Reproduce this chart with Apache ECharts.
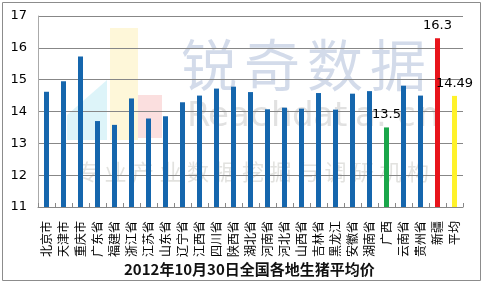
<!DOCTYPE html>
<html>
<head>
<meta charset="utf-8">
<script src="https://cdn.jsdelivr.net/npm/echarts@6/dist/echarts.min.js"></script>
<style>
  html, body { margin: 0; padding: 0; background: #fff; }
  #main { width: 483px; height: 284px; }
</style>
</head>
<body>
<div id="main"></div>
<script>
var provinces = ['北京市','天津市','重庆市','广东省','福建省','浙江省','江苏省','山东省','辽宁省','江西省',
    '四川省','陕西省','湖北省','河南省','河北省','山西省','吉林省','黑龙江','安徽省','湖南省',
    '广西','云南省','贵州省','新疆','平均'];
var prices = [14.62,14.95,15.73,13.70,13.58,14.41,13.78,13.85,14.29,14.50,
    14.72,14.78,14.61,14.07,14.12,14.09,14.58,14.06,14.56,14.64,
    13.5,14.81,14.50,16.3,14.49];
// 特别标注的柱子
var highlight = { '广西': '#1aa64a', '新疆': '#e8141b', '平均': '#fff22a' };
var yTicks = [11, 12, 13, 14, 15, 16, 17];

(function(){
    var myChart = echarts.init(document.getElementById('main'));

    var barData = prices.map(function(v, i){
        var name = provinces[i];
        var item = { value: v, itemStyle: { color: highlight[name] || '#1566ad' } };
        if (highlight[name]) {
            item.label = { show: true, position: 'top', distance: 6, color: '#000', fontSize: 13, fontFamily: 'DejaVu Sans' };
        }
        return item;
    });

    // 水印文字，逐字排开
    var wm = [];
    '锐奇数据'.split('').forEach(function(c, i){
        wm.push({ type: 'text', left: 181 + i * 63, top: 37, style: { text: c, fontSize: 56, fill: 'rgba(150,170,205,0.42)', fontFamily: 'Noto Sans CJK SC' }, z: 0 });
    });
    'Reachdata.cn'.split('').forEach(function(c, i){
        wm.push({ type: 'text', left: 187 + i * 21, top: 100, style: { text: c, fontSize: 34, fill: 'rgba(165,165,165,0.33)', fontFamily: 'DejaVu Sans' }, z: 0 });
    });
    '专业产业数据挖掘与调研机构'.split('').forEach(function(c, i){
        wm.push({ type: 'text', left: 77 + i * 27.5, top: 161, style: { text: c, fontSize: 22, fill: 'rgba(160,160,150,0.3)', fontFamily: 'Noto Sans CJK SC' }, z: 0 });
    });

    var option = {
        backgroundColor: '#fff',
        animation: false,
        grid: { left: 38, right: 20, top: 16, bottom: 77 },
        graphic: [
            { type: 'rect', shape: { x: 2.5, y: 2.5, width: 478, height: 278 }, style: { fill: 'none', stroke: '#8c8c8c', lineWidth: 1 }, z: 0 },
            { type: 'rect', shape: { x: 110, y: 28, width: 28, height: 112 }, style: { fill: 'rgba(250,225,120,0.28)' }, z: 0 },
            { type: 'polygon', shape: { points: [[67, 115], [107, 80], [107, 140], [67, 140]] }, style: { fill: 'rgba(120,210,230,0.25)' }, z: 0 },
            { type: 'rect', shape: { x: 138, y: 95, width: 24, height: 43 }, style: { fill: 'rgba(240,140,140,0.28)' }, z: 0 },
            { type: 'text', left: 124, top: 262, style: { text: '2012年10月30日全国各地生猪平均价', fontSize: 15, fontWeight: 'bold', fill: '#111', fontFamily: 'Noto Sans CJK SC' }, z: 10 }
        ].concat(wm),
        xAxis: {
            type: 'category',
            data: provinces,
            axisLine: { lineStyle: { color: '#888' } },
            axisTick: { show: true, inside: true, length: 4, interval: 0, lineStyle: { color: '#888' } },
            axisLabel: {
                interval: 0,
                rotate: 90,
                color: '#000',
                fontSize: 12,
                margin: 14,
                fontFamily: 'Noto Sans CJK SC'
            }
        },
        yAxis: {
            type: 'value',
            min: 11,
            max: 17,
            interval: 1,
            axisLine: { show: true, lineStyle: { color: '#aaa' } },
            axisTick: { show: false },
            axisLabel: { color: '#000', fontSize: 13, margin: 11, fontFamily: 'DejaVu Sans',
                formatter: function(v){ return yTicks.indexOf(v) >= 0 ? String(v) : ''; } },
            splitLine: { lineStyle: { color: '#878787' } }
        },
        series: [
            {
                name: '生猪平均价',
                type: 'bar',
                barWidth: 5,
                data: barData
            }
        ]
    };
    myChart.setOption(option);
})();
</script>
</body>
</html>
